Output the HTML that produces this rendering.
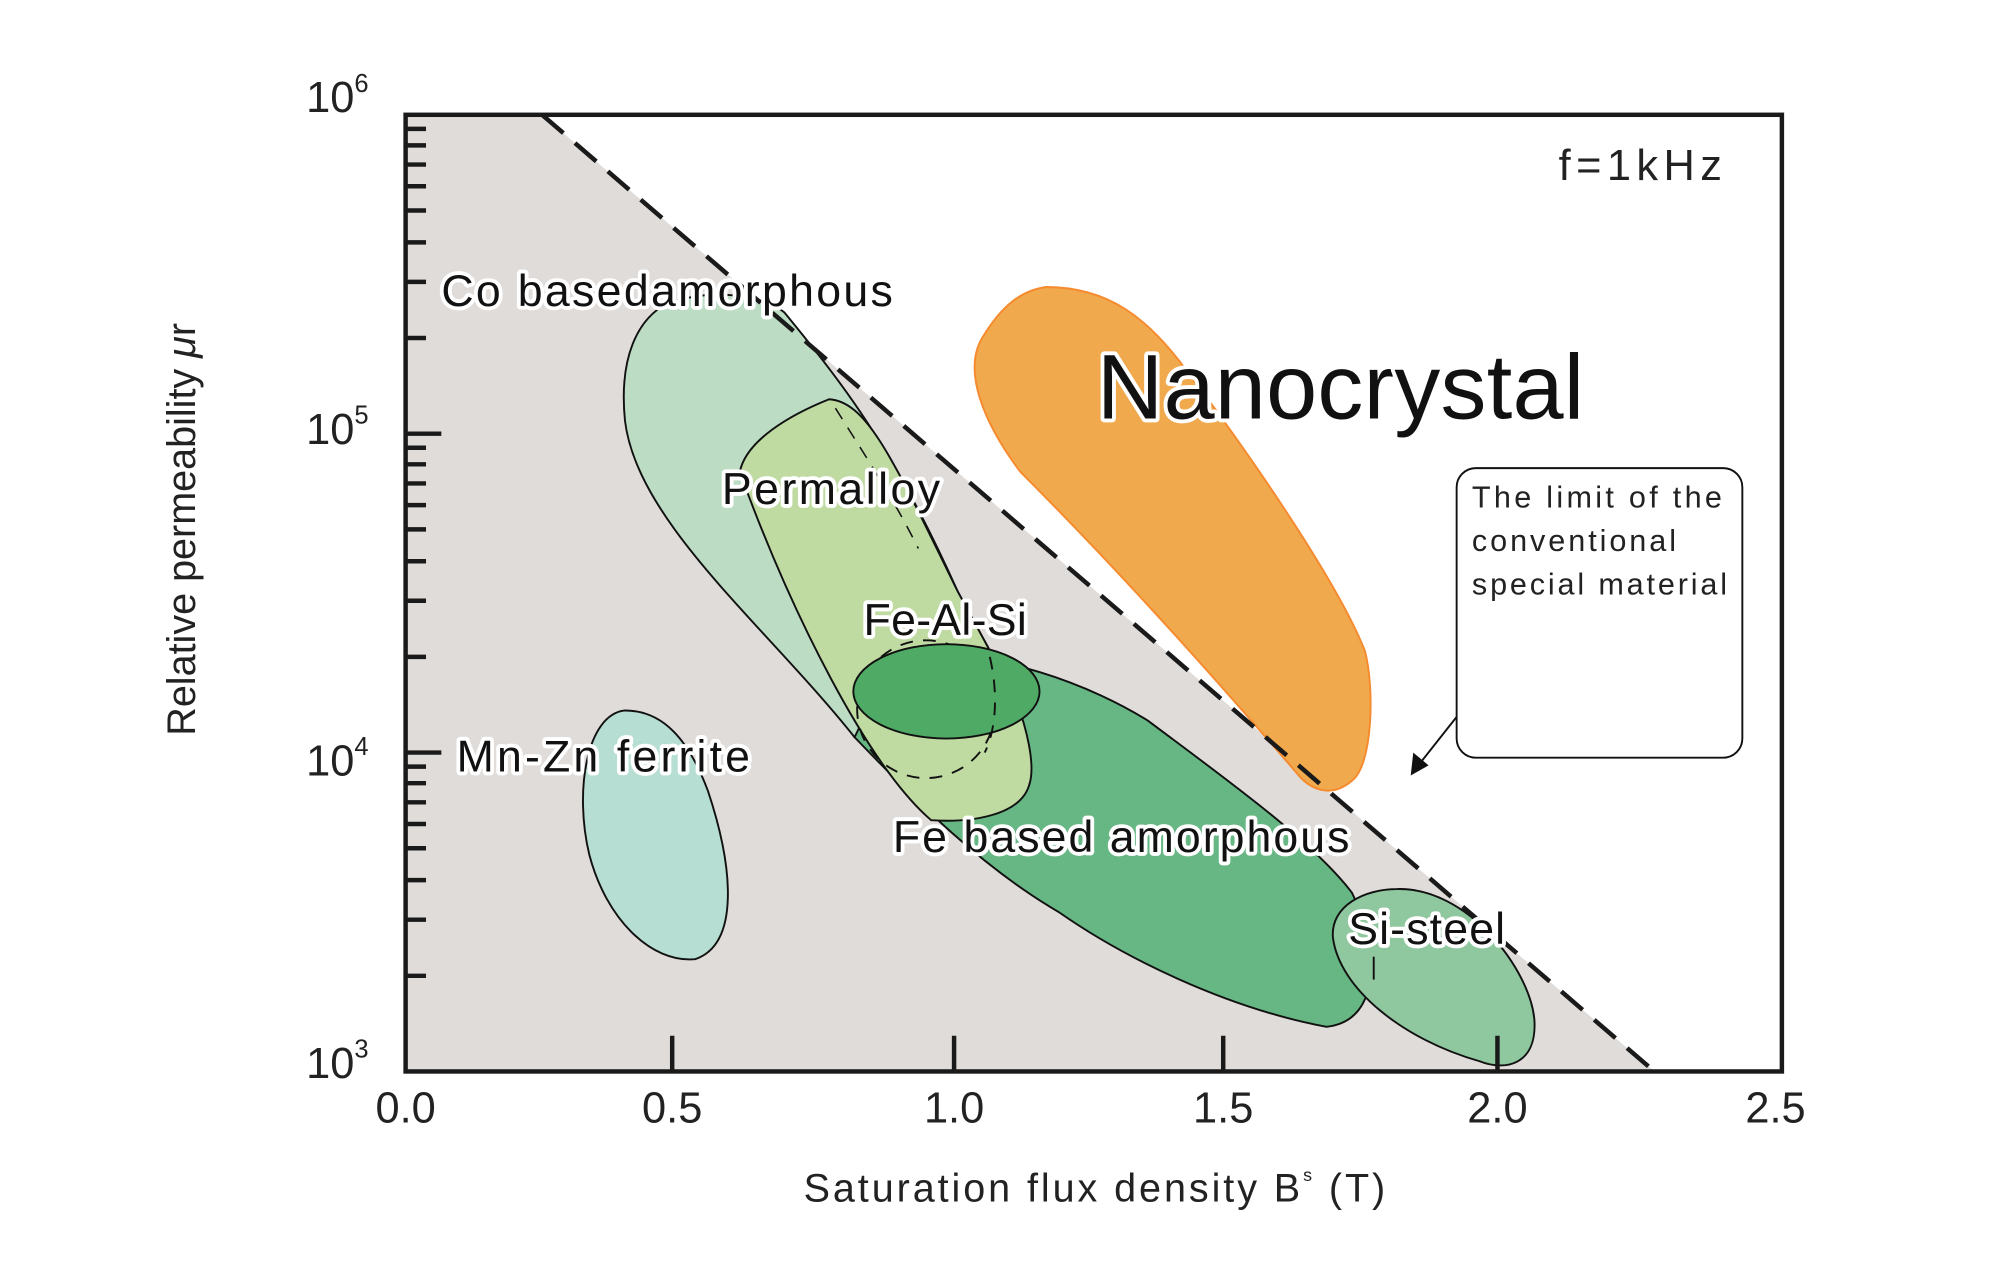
<!DOCTYPE html>
<html><head><meta charset="utf-8"><style>html,body{margin:0;padding:0;background:#fff}svg{display:block}</style></head>
<body>
<svg width="2000" height="1273" viewBox="0 0 1568 998" preserveAspectRatio="none" xmlns="http://www.w3.org/2000/svg" font-family="Liberation Sans, DejaVu Sans, sans-serif">
<polygon points="318,90 425,90 1297,840 318,840" fill="#E0DCD9"/>
<path d="M490,557 C520,557 540,580 555,620 C575,680 580,740 545,752 C510,755 475,720 462,670 C450,620 460,560 490,557 Z" fill="#B6DED3" stroke="#111" stroke-width="1.5"/>
<path d="M523,238 C560,225 600,232 615,245 C660,300 700,350 751,464 L795,545 L760,560 L670,578 C600,490 500,410 490,330 C485,280 500,250 523,238 Z" fill="#BCDCC4" stroke="#111" stroke-width="1.5"/>
<path d="M700,515 C780,505 860,540 900,565 C960,610 1030,660 1060,700 C1080,740 1085,800 1040,805 C960,790 880,750 830,715 C770,680 720,630 670,578 Z" fill="#66B783" stroke="#111" stroke-width="1.5"/>
<path d="M1095,697 C1150,695 1200,760 1203,800 C1205,835 1180,840 1160,832 C1100,815 1050,775 1045,735 C1043,710 1070,697 1095,697 Z" fill="#8FC79E" stroke="#111" stroke-width="1.5"/>
<path d="M1077,750 L1077,768" stroke="#111" stroke-width="1.5"/>
<path d="M650,313 C680,315 700,360 751,464 L795,545 C805,570 812,600 807,615 C800,640 760,645 730,643 C680,600 620,480 580,370 C585,345 620,325 650,313 Z" fill="#BFDBA2" stroke="#111" stroke-width="1.5"/>
<path d="M655,320 C680,360 700,390 720,430" stroke="#111" stroke-width="1.2" fill="none" stroke-dasharray="10,8"/>
<circle cx="726" cy="556" r="54" fill="none" stroke="#111" stroke-width="1.5" stroke-dasharray="10,8"/>
<ellipse cx="742" cy="542" rx="73" ry="37" fill="#4EAA64" stroke="#111" stroke-width="1.5"/>
<path d="M776,515 C782,540 782,570 772,590" stroke="#111" stroke-width="1.5" fill="none" stroke-dasharray="10,8"/>
<path d="M820,225 C870,225 900,250 930,290 C990,370 1050,460 1070,510 C1078,540 1076,600 1060,612 C1045,625 1030,620 1020,610 C960,540 880,450 800,370 C770,330 755,290 770,265 C785,240 800,228 820,225 Z" fill="#F0A94C" stroke="#F58A2E" stroke-width="1.5"/>
<line x1="425" y1="90" x2="1297" y2="840" stroke="#1a1a1a" stroke-width="3.5" stroke-dasharray="22,12"/>
<rect x="318" y="90" width="1079" height="750" fill="none" stroke="#1a1a1a" stroke-width="3.5"/>
<g stroke="#1a1a1a" stroke-width="3.5">
<line x1="318" y1="340" x2="346" y2="340"/><line x1="318" y1="590" x2="346" y2="590"/>
<line x1="318" y1="765" x2="334" y2="765"/><line x1="318" y1="721" x2="334" y2="721"/><line x1="318" y1="690" x2="334" y2="690"/><line x1="318" y1="665" x2="334" y2="665"/><line x1="318" y1="646" x2="334" y2="646"/><line x1="318" y1="629" x2="334" y2="629"/><line x1="318" y1="614" x2="334" y2="614"/><line x1="318" y1="601" x2="334" y2="601"/>
<line x1="318" y1="515" x2="334" y2="515"/><line x1="318" y1="471" x2="334" y2="471"/><line x1="318" y1="440" x2="334" y2="440"/><line x1="318" y1="415" x2="334" y2="415"/><line x1="318" y1="396" x2="334" y2="396"/><line x1="318" y1="379" x2="334" y2="379"/><line x1="318" y1="364" x2="334" y2="364"/><line x1="318" y1="351" x2="334" y2="351"/>
<line x1="318" y1="265" x2="334" y2="265"/><line x1="318" y1="221" x2="334" y2="221"/><line x1="318" y1="190" x2="334" y2="190"/><line x1="318" y1="165" x2="334" y2="165"/><line x1="318" y1="146" x2="334" y2="146"/><line x1="318" y1="129" x2="334" y2="129"/><line x1="318" y1="114" x2="334" y2="114"/><line x1="318" y1="101" x2="334" y2="101"/>
<line x1="527" y1="840" x2="527" y2="812"/><line x1="748" y1="840" x2="748" y2="812"/><line x1="959" y1="840" x2="959" y2="812"/><line x1="1174" y1="840" x2="1174" y2="812"/>
</g>
<g font-size="34" fill="#222">
<text x="240" y="88">10<tspan font-size="20" dy="-16">6</tspan></text>
<text x="240" y="348">10<tspan font-size="20" dy="-16">5</tspan></text>
<text x="240" y="608">10<tspan font-size="20" dy="-16">4</tspan></text>
<text x="240" y="845">10<tspan font-size="20" dy="-16">3</tspan></text>
<g text-anchor="middle"><text x="318" y="880">0.0</text><text x="527" y="880">0.5</text><text x="748" y="880">1.0</text><text x="959" y="880">1.5</text><text x="1174" y="880">2.0</text><text x="1392" y="880">2.5</text></g>
</g>
<text x="630" y="942" font-size="31" fill="#222" textLength="456">Saturation flux density B<tspan font-size="14" dy="-16">s</tspan><tspan dy="16"> (T)</tspan></text>
<text transform="translate(153,415) rotate(-90)" font-size="31" fill="#222" text-anchor="middle">Relative permeability <tspan font-style="italic">μ</tspan>r</text>
<text x="1222" y="141" font-size="34" fill="#222" textLength="128">f=1kHz</text>
<rect x="1142" y="367" width="224" height="227" rx="15" fill="#fff" stroke="#111" stroke-width="1.5"/>
<g font-size="24" fill="#222"><text x="1154" y="398" textLength="196">The limit of the</text><text x="1154" y="432" textLength="160">conventional</text><text x="1154" y="466" textLength="200">special material</text></g>
<line x1="1142" y1="562" x2="1112" y2="600" stroke="#111" stroke-width="1.5"/>
<polygon points="1106,608 1108,590 1120,600" fill="#111"/>
<g font-size="35" fill="#111" stroke="#fff" stroke-width="6" paint-order="stroke" stroke-linejoin="round">
<text x="346" y="240" textLength="354">Co basedamorphous</text>
<text x="566" y="395" textLength="171">Permalloy</text>
<text x="677" y="498" textLength="128">Fe-Al-Si</text>
<text x="358" y="605" textLength="230">Mn-Zn ferrite</text>
<text x="700" y="668" textLength="358">Fe based amorphous</text>
<text x="1057" y="740" textLength="123">Si-steel</text>
<text x="860" y="328" font-size="72" textLength="382">Nanocrystal</text>
</g>
</svg>
</body></html>
